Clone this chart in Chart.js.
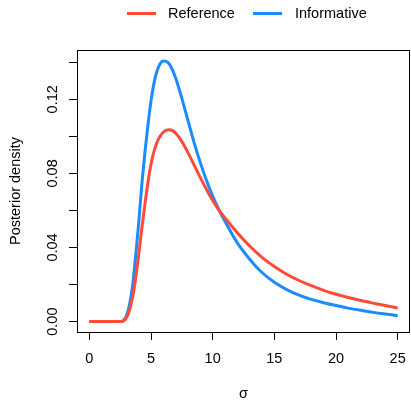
<!DOCTYPE html>
<html>
<head>
<meta charset="utf-8">
<script src="https://cdn.jsdelivr.net/npm/chart.js@4"></script>
<style>
  html, body { margin: 0; padding: 0; background: #fff; }
  #wrap { width: 411px; height: 401px; }
</style>
</head>
<body>
<div id="wrap"><canvas id="chart" width="411" height="401"></canvas></div>
<script>
// values
const sigma = [0, 0.5, 1, 1.5, 2, 2.5, 2.75, 3, 3.25, 3.5, 3.75, 4, 4.25, 4.5, 4.75, 5, 5.25, 5.5, 5.75, 6, 6.25, 6.5, 6.75, 7, 7.25, 7.5, 8, 8.5, 9, 9.5, 10, 10.5, 11, 12, 13, 14, 15, 16, 17, 18, 19, 20, 21, 22, 23, 24, 25];
const reference = [0, 0, 0, 0, 0, 0, 0.0003, 0.002, 0.006, 0.013, 0.023, 0.036, 0.050, 0.063, 0.075, 0.085, 0.092, 0.097, 0.1002, 0.1022, 0.1033, 0.1036, 0.1031, 0.1017, 0.0997, 0.0972, 0.0912, 0.0845, 0.0777, 0.0713, 0.0654, 0.0603, 0.0559, 0.048, 0.0408, 0.0347, 0.0297, 0.0256, 0.0222, 0.0194, 0.0169, 0.0148, 0.013, 0.0114, 0.010, 0.0087, 0.0074];
const informative = [0, 0, 0, 0, 0, 0.0001, 0.0006, 0.003, 0.009, 0.019, 0.035, 0.053, 0.0735, 0.091, 0.106, 0.119, 0.129, 0.1355, 0.1393, 0.1407, 0.1404, 0.1389, 0.1358, 0.1315, 0.1262, 0.1205, 0.1085, 0.0965, 0.0858, 0.0762, 0.0678, 0.0605, 0.0541, 0.0425, 0.0337, 0.0265, 0.0212, 0.0173, 0.0143, 0.012, 0.0102, 0.0087, 0.0073, 0.0061, 0.005, 0.0041, 0.0032];
const xTicks = [0, 5, 10, 15, 20, 25];
const yTicks = [0, 0.02, 0.04, 0.06, 0.08, 0.1, 0.12, 0.14];
const yLabelled = [0, 0.04, 0.08, 0.12];

const FONT = 'Liberation Sans, Arial, Helvetica, sans-serif';
const RED = '#FF4A3A';
const BLUE = '#1A8CFF';

const toPoints = ys => sigma.map((s, i) => ({ x: s, y: ys[i] }));

// box, y tick labels and top legend, drawn R-style
const rStyle = {
  id: 'rStyle',
  afterDraw(chart) {
    const ctx = chart.ctx;
    const a = chart.chartArea;
    const yScale = chart.scales.y;
    ctx.save();
    ctx.strokeStyle = '#000';
    ctx.lineWidth = 1;
    ctx.strokeRect(a.left + 0.5, a.top + 0.5, a.right - a.left - 1, a.bottom - a.top);

    ctx.fillStyle = '#000';
    ctx.font = '14.5px ' + FONT;
    ctx.textAlign = 'center';
    ctx.textBaseline = 'alphabetic';
    yLabelled.forEach(v => {
      const py = yScale.getPixelForValue(v);
      ctx.save();
      ctx.translate(57, py);
      ctx.rotate(-Math.PI / 2);
      ctx.fillText(v.toFixed(2), 0, 0);
      ctx.restore();
    });

    // legend
    const items = [{ x: 127, tx: 168 }, { x: 253, tx: 295 }];
    chart.data.datasets.forEach((ds, i) => {
      const it = items[i];
      ctx.strokeStyle = ds.borderColor;
      ctx.lineWidth = 3;
      ctx.beginPath();
      ctx.moveTo(it.x, 13.5);
      ctx.lineTo(it.x + 29, 13.5);
      ctx.stroke();
      ctx.fillStyle = '#000';
      ctx.textAlign = 'left';
      ctx.textBaseline = 'middle';
      ctx.fillText(ds.label, it.tx, 14);
    });
    ctx.restore();
  }
};

new Chart(document.getElementById('chart'), {
  type: 'line',
  data: {
    datasets: [
      { label: 'Reference', data: toPoints(reference), borderColor: RED, backgroundColor: RED,
        borderWidth: 3, pointRadius: 0, cubicInterpolationMode: 'monotone', fill: false },
      { label: 'Informative', data: toPoints(informative), borderColor: BLUE, backgroundColor: BLUE,
        borderWidth: 3, pointRadius: 0, cubicInterpolationMode: 'monotone', fill: false }
    ]
  },
  options: {
    responsive: false,
    animation: false,
    events: [],
    layout: { padding: { top: 50, right: 1, left: 0, bottom: 0 } },
    plugins: { legend: { display: false }, tooltip: { enabled: false } },
    scales: {
      x: {
        type: 'linear',
        min: -1,
        max: 26,
        afterBuildTicks: s => { s.ticks = xTicks.map(v => ({ value: v })); },
        afterFit: s => { s.height = 69; s.paddingLeft = 0; s.paddingRight = 0; },
        border: { display: false },
        grid: { drawOnChartArea: false, drawTicks: true, tickLength: 8, color: '#000', tickColor: '#000' },
        ticks: { color: '#000', font: { family: FONT, size: 14.5 }, padding: 10.5, maxRotation: 0 },
        title: { display: true, text: 'σ', color: '#000', font: { family: FONT, size: 14.5, lineHeight: 1 }, padding: { top: 0, bottom: 0 } }
      },
      y: {
        type: 'linear',
        min: -0.0056,
        max: 0.1466,
        afterBuildTicks: s => { s.ticks = yTicks.map(v => ({ value: v })); },
        afterFit: s => { s.width = 77; s.paddingTop = 0; s.paddingBottom = 0; },
        border: { display: false },
        grid: { drawOnChartArea: false, drawTicks: true, tickLength: 8, color: '#000', tickColor: '#000' },
        ticks: { display: false },
        title: { display: true, text: 'Posterior density', color: '#000', font: { family: FONT, size: 14.5 }, padding: { top: 7, bottom: 0 } }
      }
    }
  },
  plugins: [rStyle]
});
</script>
</body>
</html>
